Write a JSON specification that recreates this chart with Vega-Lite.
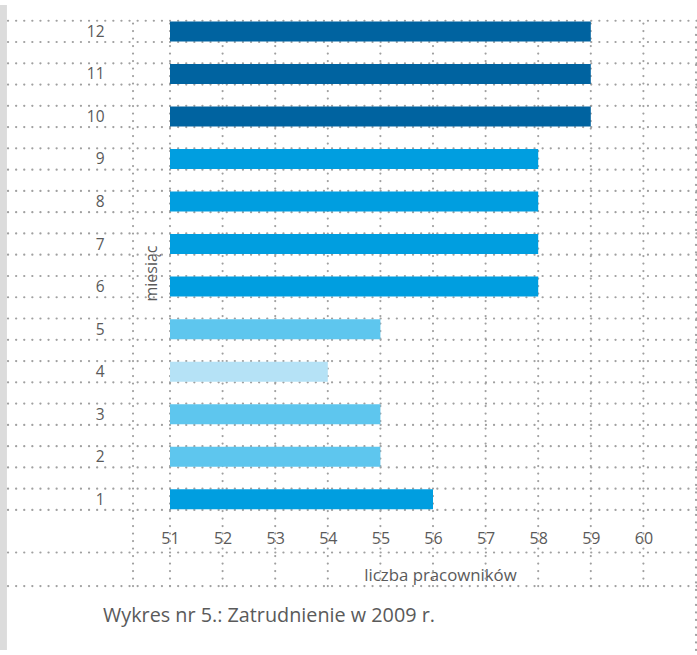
{
  "$schema": "https://vega.github.io/schema/vega-lite/v6.json",
  "width": 697,
  "height": 655,
  "autosize": {"type": "none"},
  "padding": 0,
  "background": "#ffffff",
  "config": {
    "view": {"stroke": null},
    "font": "Open Sans",
    "axis": {"labelFont": "Open Sans", "titleFont": "Open Sans"}
  },
  "datasets": {
    "bars": [
      {"month": 1, "employees": 56, "shade": "b"},
      {"month": 2, "employees": 55, "shade": "c"},
      {"month": 3, "employees": 55, "shade": "c"},
      {"month": 4, "employees": 54, "shade": "d"},
      {"month": 5, "employees": 55, "shade": "c"},
      {"month": 6, "employees": 58, "shade": "b"},
      {"month": 7, "employees": 58, "shade": "b"},
      {"month": 8, "employees": 58, "shade": "b"},
      {"month": 9, "employees": 58, "shade": "b"},
      {"month": 10, "employees": 59, "shade": "a"},
      {"month": 11, "employees": 59, "shade": "a"},
      {"month": 12, "employees": 59, "shade": "a"}
    ],
    "hgrid": [
      {"level": 12.25}, {"level": 11.75}, {"level": 11.25}, {"level": 10.75},
      {"level": 10.25}, {"level": 9.75}, {"level": 9.25}, {"level": 8.75},
      {"level": 8.25}, {"level": 7.75}, {"level": 7.25}, {"level": 6.75},
      {"level": 6.25}, {"level": 5.75}, {"level": 5.25}, {"level": 4.75},
      {"level": 4.25}, {"level": 3.75}, {"level": 3.25}, {"level": 2.75},
      {"level": 2.25}, {"level": 1.75}, {"level": 1.25}, {"level": 0.75},
      {"level": -0.25}, {"level": -1.04}
    ],
    "vgrid": [
      {"pos": 50.297, "bottom": -1.04},
      {"pos": 51, "bottom": -1.04},
      {"pos": 52, "bottom": -1.04},
      {"pos": 53, "bottom": -1.04},
      {"pos": 54, "bottom": -1.04},
      {"pos": 55, "bottom": -1.04},
      {"pos": 56, "bottom": -1.04},
      {"pos": 57, "bottom": -1.04},
      {"pos": 58, "bottom": -1.04},
      {"pos": 59, "bottom": -1.04},
      {"pos": 60, "bottom": -1.04},
      {"pos": 61, "bottom": -2.542}
    ],
    "caption": [
      {"label": "Wykres nr 5.: Zatrudnienie w 2009 r."}
    ]
  },
  "layer": [
    {
      "data": {"name": "caption"},
      "mark": {"type": "rect", "color": "#dcdcdc"},
      "encoding": {
        "x": {"datum": 47.768, "type": "quantitative", "scale": {"domain": [47.768, 61.019], "nice": false, "zero": false}},
        "x2": {"datum": 47.9},
        "y": {"datum": -2.542, "type": "quantitative", "scale": {"domain": [-2.542, 12.62], "nice": false, "zero": false}},
        "y2": {"datum": 12.62}
      }
    },
    {
      "data": {"name": "hgrid"},
      "mark": {"type": "rule", "color": "#a0a0a0", "strokeWidth": 2.2, "strokeCap": "round", "strokeDash": [0.1, 8]},
      "encoding": {
        "x": {"datum": 47.92, "type": "quantitative"},
        "x2": {"datum": 61.019},
        "y": {"field": "level", "type": "quantitative"}
      }
    },
    {
      "data": {"name": "vgrid"},
      "mark": {"type": "rule", "color": "#a0a0a0", "strokeWidth": 2.2, "strokeCap": "round", "strokeDash": [0.1, 7.4]},
      "encoding": {
        "x": {"field": "pos", "type": "quantitative"},
        "y": {"field": "bottom", "type": "quantitative"},
        "y2": {"datum": 12.25}
      }
    },
    {
      "data": {"name": "bars"},
      "mark": {"type": "bar", "size": 20, "orient": "horizontal"},
      "encoding": {
        "x": {"field": "employees", "type": "quantitative",
              "axis": {"orient": "bottom", "offset": -125, "values": [51, 52, 53, 54, 55, 56, 57, 58, 59, 60], "domain": false, "ticks": false, "grid": false, "labelPadding": 0, "labelFontSize": 16, "labelColor": "#5a5a5a", "labelFlush": false, "labelOverlap": false,
                       "title": "liczba pracowników", "titleFontSize": 16.8, "titleFontWeight": "normal", "titleColor": "#5a5a5a", "titleX": 440, "titleY": 50, "titleAlign": "center", "titleBaseline": "alphabetic"}},
        "x2": {"datum": 51},
        "y": {"field": "month", "type": "quantitative",
              "axis": {"orient": "left", "offset": -104, "values": [1, 2, 3, 4, 5, 6, 7, 8, 9, 10, 11, 12], "domain": false, "ticks": false, "grid": false, "labelPadding": 0, "labelFontSize": 15.5, "labelColor": "#5a5a5a", "labelFlush": false, "labelOverlap": false, "format": "d",
                       "title": "miesiąc", "titleFontSize": 16, "titleFontWeight": "normal", "titleColor": "#5a5a5a", "titleAngle": -90, "titleX": 52, "titleY": 273, "titleAlign": "center", "titleBaseline": "alphabetic"}},
        "color": {"field": "shade", "type": "nominal", "legend": null,
                  "scale": {"domain": ["a", "b", "c", "d"], "range": ["#0063a0", "#009ee0", "#5ec6ee", "#b5e2f6"]}}
      }
    },
    {
      "data": {"name": "caption"},
      "mark": {"type": "text", "align": "left", "baseline": "alphabetic", "fontSize": 19.8, "color": "#5a5a5a", "font": "Open Sans"},
      "encoding": {
        "x": {"datum": 49.726, "type": "quantitative"},
        "y": {"datum": -1.887, "type": "quantitative"},
        "text": {"field": "label", "type": "nominal"}
      }
    }
  ]
}
